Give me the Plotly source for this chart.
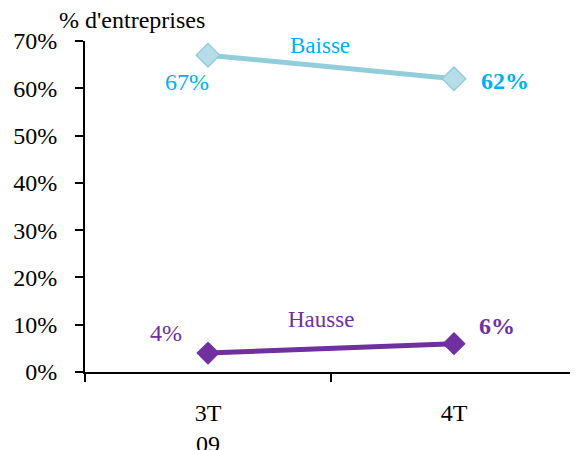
import plotly.graph_objects as go

categories = ["3T<br>09", "4T"]
baisse = [67, 62]
hausse = [4, 6]
baisse_labels = ["67%", "<b>62%</b>"]
hausse_labels = ["4%", "<b>6%</b>"]
y_ticks = [0, 10, 20, 30, 40, 50, 60, 70]
y_ticktext = [f"{v}%" for v in y_ticks]

FONT = "Liberation Serif"
BLUE_LINE = "#92CDDC"
BLUE_MARK = "#B7DEE8"
BLUE_TEXT = "#00B0F0"
PURPLE = "#7030A0"

fig = go.Figure()
fig.add_trace(go.Scatter(
    x=categories, y=baisse, mode="lines+markers", name="Baisse",
    line=dict(color=BLUE_LINE, width=5),
    marker=dict(symbol="diamond", size=18, color=BLUE_MARK,
                line=dict(color=BLUE_LINE, width=1.5)),
))
fig.add_trace(go.Scatter(
    x=categories, y=hausse, mode="lines+markers", name="Hausse",
    line=dict(color=PURPLE, width=5),
    marker=dict(symbol="diamond", size=18, color=PURPLE),
))

ann = []
b_shifts = [(-21, -27), (51, -2)]
h_shifts = [(-42, 20), (43, 18)]
for i, c in enumerate(categories):
    ann.append(dict(x=c, y=baisse[i], xref="x", yref="y", text=baisse_labels[i],
                    showarrow=False, xshift=b_shifts[i][0], yshift=b_shifts[i][1],
                    font=dict(family=FONT, size=24, color=BLUE_TEXT)))
    ann.append(dict(x=c, y=hausse[i], xref="x", yref="y", text=hausse_labels[i],
                    showarrow=False, xshift=h_shifts[i][0], yshift=h_shifts[i][1],
                    font=dict(family=FONT, size=24, color=PURPLE)))
ann.append(dict(x=0.5, y=(baisse[0] + baisse[1]) / 2, xref="x", yref="y", text="Baisse",
                showarrow=False, xshift=-11, yshift=22,
                font=dict(family=FONT, size=23, color=BLUE_TEXT)))
ann.append(dict(x=0.5, y=(hausse[0] + hausse[1]) / 2, xref="x", yref="y", text="Hausse",
                showarrow=False, xshift=-10, yshift=29,
                font=dict(family=FONT, size=23, color=PURPLE)))
ann.append(dict(x=0.0955, y=1.063, xref="paper", yref="paper", text="% d'entreprises",
                showarrow=False, xanchor="center", yanchor="middle",
                font=dict(family=FONT, size=24, color="black")))

fig.update_layout(
    width=578, height=450,
    margin=dict(l=77, r=9, t=33, b=86, autoexpand=False),
    paper_bgcolor="white", plot_bgcolor="white",
    showlegend=False,
    font=dict(family=FONT, size=24, color="black"),
    annotations=ann,
    xaxis=dict(type="category", range=[-0.5, 1.5], tickson="boundaries",
               automargin=False,
               showline=True, linecolor="black", linewidth=2,
               ticks="outside", ticklen=8, tickwidth=2, tickcolor="black",
               ticklabelstandoff=18,
               showgrid=False, zeroline=False,
               tickfont=dict(family=FONT, size=24, color="black")),
    yaxis=dict(range=[0, 70], tickvals=y_ticks, ticktext=y_ticktext,
               automargin=False,
               showline=True, linecolor="black", linewidth=2,
               ticks="outside", ticklen=8, tickwidth=2, tickcolor="black",
               ticklabelstandoff=13,
               showgrid=False, zeroline=False,
               tickfont=dict(family=FONT, size=24, color="black")),
)
fig.write_html("out.html")
